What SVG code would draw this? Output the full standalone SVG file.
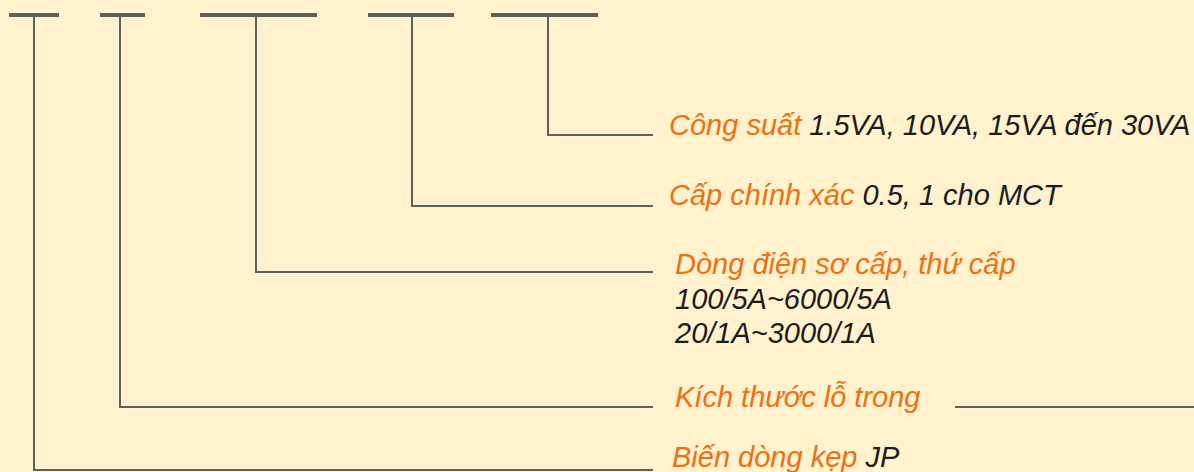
<svg xmlns="http://www.w3.org/2000/svg" width="1194" height="472" viewBox="0 0 1194 472">
<style>
.bar{stroke:#5f5f5f;stroke-width:4;fill:none}
.ln{stroke:#5f5f5f;stroke-width:2;fill:none}
text{font-family:"Liberation Sans",Arial,sans-serif;font-style:italic;font-size:29px}
.o{fill:#EE7010}
.k{fill:#1c1c1c}
</style>
<rect width="1194" height="472" fill="#FFF2CD"/>
<g id="bars">
<line class="bar" x1="9" y1="15" x2="59" y2="15"/>
<line class="bar" x1="100" y1="15" x2="145" y2="15"/>
<line class="bar" x1="200" y1="15" x2="317" y2="15"/>
<line class="bar" x1="368" y1="15" x2="454" y2="15"/>
<line class="bar" x1="491" y1="15" x2="598" y2="15"/>
</g>
<g id="connectors">
<polyline class="ln" points="548,15 548,135 653,135"/>
<polyline class="ln" points="412,15 412,206 653,206"/>
<polyline class="ln" points="256,15 256,272 653,272"/>
<polyline class="ln" points="120,15 120,407 653,407"/>
<polyline class="ln" points="34,15 34,470 653,470"/>
<line class="ln" x1="955" y1="407" x2="1194" y2="407"/>
</g>
<g id="n1"><text x="669" y="135"><tspan class="o">Công suất</tspan><tspan class="k"> 1.5VA, 10VA, 15VA đến 30VA</tspan></text></g>
<g id="n2"><text x="669" y="205"><tspan class="o">Cấp chính xác</tspan><tspan class="k"> 0.5, 1 cho MCT</tspan></text></g>
<g id="n3"><text x="675" y="274" class="o">Dòng điện sơ cấp, thứ cấp</text>
<text x="675" y="309" class="k">100/5A~6000/5A</text>
<text x="675" y="343" class="k">20/1A~3000/1A</text></g>
<g id="n4"><text x="675" y="407" class="o">Kích thước lỗ trong</text></g>
<g id="n5"><text x="672" y="467"><tspan class="o">Biến dòng kẹp</tspan><tspan class="k"> JP</tspan></text></g>
</svg>
